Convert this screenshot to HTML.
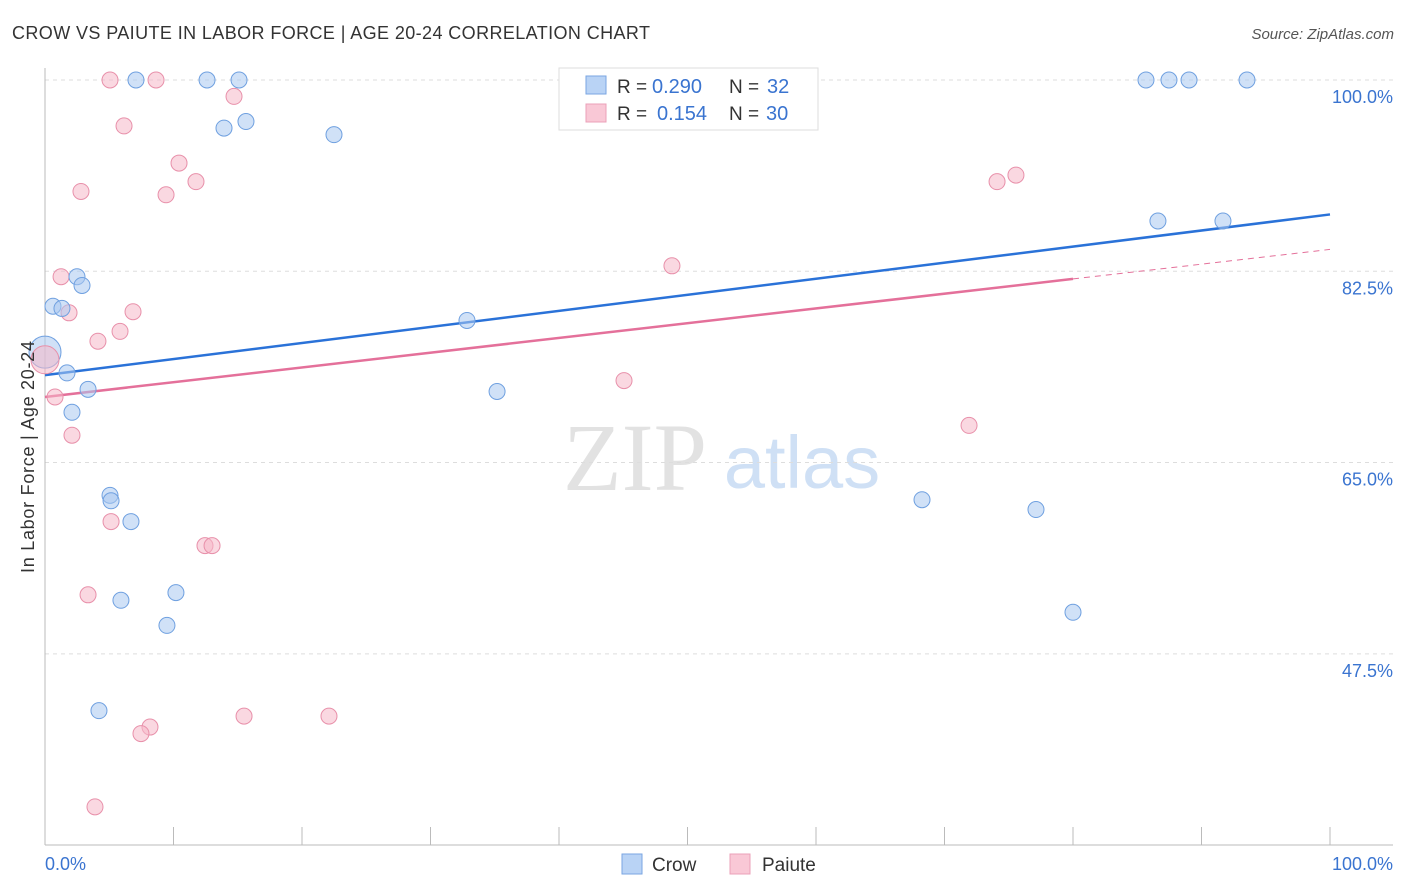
<!DOCTYPE html>
<html><head><meta charset="utf-8"><style>
body{margin:0;background:#fff;font-family:"Liberation Sans",sans-serif;}
svg{display:block}
</style></head><body>
<svg width="1406" height="892" xmlns="http://www.w3.org/2000/svg">
<text x="12" y="39" font-size="18" fill="#333" textLength="638">CROW VS PAIUTE IN LABOR FORCE | AGE 20-24 CORRELATION CHART</text>
<text x="1394" y="39" font-size="15" fill="#555" text-anchor="end" font-style="italic">Source: ZipAtlas.com</text>
<text x="635" y="490" font-size="96" fill="#e2e2e2" text-anchor="middle" font-family="Liberation Serif,serif">ZIP</text>
<text x="802" y="488" font-size="74" fill="#cfe0f5" text-anchor="middle">atlas</text>
<g id="grid"></g>
<g id="axes"></g>
<g id="lines"></g>
<g id="pts"></g>
<text transform="translate(34,457) rotate(-90)" font-size="18" fill="#333" text-anchor="middle" textLength="232">In Labor Force | Age 20-24</text>
<text x="45" y="870" font-size="18" fill="#3a74d0">0.0%</text>
<text x="1393" y="870" font-size="18" fill="#3a74d0" text-anchor="end">100.0%</text>
<g>
<rect x="559" y="68" width="259" height="62" fill="#fff" stroke="#ddd"/>
<rect x="586" y="76" width="20" height="18" fill="#b9d3f5" stroke="#7aa6e2"/>
<rect x="586" y="104" width="20" height="18" fill="#f9c8d6" stroke="#eba0b8"/>
<text x="617" y="93" font-size="19" fill="#333">R =</text>
<text x="652" y="93" font-size="20" fill="#3a74d0">0.290</text>
<text x="729" y="93" font-size="19" fill="#333">N =</text>
<text x="767" y="93" font-size="20" fill="#3a74d0">32</text>
<text x="617" y="120" font-size="19" fill="#333">R =</text>
<text x="657" y="120" font-size="20" fill="#3a74d0">0.154</text>
<text x="729" y="120" font-size="19" fill="#333">N =</text>
<text x="766" y="120" font-size="20" fill="#3a74d0">30</text>
</g>
<g>
<rect x="622" y="854" width="20" height="20" fill="#b9d3f5" stroke="#7aa6e2"/>
<text x="652" y="871" font-size="19" fill="#333">Crow</text>
<rect x="730" y="854" width="20" height="20" fill="#f9c8d6" stroke="#eba0b8"/>
<text x="762" y="871" font-size="19" fill="#333">Paiute</text>
</g>
</svg>
<script>
const yTicks=[100,82.5,65,47.5];
const yTickLabels=["100.0%","82.5%","65.0%","47.5%"];
const crowX=[0.62,1.32,2.49,2.88,1.71,2.10,3.35,5.06,5.14,6.69,5.91,10.19,9.49,4.20,7.08,12.61,15.10,13.93,15.64,22.49,32.84,35.18,68.25,77.12,80.0,85.68,87.47,89.03,93.54,86.61,91.67];
const crowY=[79.3,79.1,82.0,81.2,73.2,69.6,71.7,62.0,61.5,59.6,52.4,53.1,50.1,42.3,100,100,100,95.6,96.2,95.0,78.0,71.5,61.6,60.7,51.3,100,100,100,100,87.1,87.1];
const paiX=[5.06,8.64,14.71,6.15,2.80,9.42,10.43,11.75,1.25,1.87,6.85,5.84,4.12,0.78,2.10,5.14,12.45,13.0,3.35,15.49,22.1,8.17,7.47,3.89,48.79,45.06,71.91,74.09,75.56];
const paiY=[100,100,98.5,95.8,89.8,89.5,92.4,90.7,82.0,78.7,78.8,77.0,76.1,71.0,67.5,59.6,57.4,57.4,52.9,41.8,41.8,40.8,40.2,33.5,83.0,72.5,68.4,90.7,91.3];
const crowBig=[0,75.1], paiBig=[0,74.4];
const crowTrend=[73.0,87.7], paiTrend=[71.0,84.5], paiSolidEnd=80;
const X=v=>45+v*12.85, Y=v=>80+(100-v)*10.93;
const NS="http://www.w3.org/2000/svg";
function mk(t,a,p){const e=document.createElementNS(NS,t);for(const k in a)e.setAttribute(k,a[k]);document.getElementById(p).appendChild(e);return e;}
yTicks.forEach((t,i)=>{
 const l=mk('line',{x1:45,x2:1393,y1:Y(t),y2:Y(t),stroke:'#ddd','stroke-dasharray':'4,4'},'grid');
 
 
 const tx=mk('text',{x:1393,y:Y(t)+23,'font-size':18,fill:'#3a74d0','text-anchor':'end'},'grid');
 tx.textContent=yTickLabels[i];
 
 
});
const ax=mk('line',{x1:45,x2:1393,y1:845,y2:845,stroke:'#bbb'},'axes');


const ay=mk('line',{x1:45,x2:45,y1:68,y2:845,stroke:'#bbb'},'axes');


for(let i=0;i<=10;i++){const t=mk('line',{x1:X(i*10),x2:X(i*10),y1:827,y2:845,stroke:'#bbb'},'axes');
 
 }
let l1=mk('line',{x1:X(0),y1:Y(crowTrend[0]),x2:X(100),y2:Y(crowTrend[1]),stroke:'#2a72d8','stroke-width':2.5},'lines');


const pAt=x=>paiTrend[0]+(paiTrend[1]-paiTrend[0])*x/100;
let l2=mk('line',{x1:X(0),y1:Y(paiTrend[0]),x2:X(paiSolidEnd),y2:Y(pAt(paiSolidEnd)),stroke:'#e4709a','stroke-width':2.5},'lines');


let l3=mk('line',{x1:X(paiSolidEnd),y1:Y(pAt(paiSolidEnd)),x2:X(100),y2:Y(paiTrend[1]),stroke:'#e4709a','stroke-width':1,'stroke-dasharray':'6,5'},'lines');


function pts(xs,ys,fill,stroke,name){xs.forEach((x,i)=>{const c=mk('circle',{cx:X(x),cy:Y(ys[i]),r:8,fill:fill,'fill-opacity':0.55,stroke:stroke,'stroke-width':1},'pts');
 
 });}
const b1=mk('circle',{cx:X(crowBig[0]),cy:Y(crowBig[1]),r:16,fill:'#a9c8f0','fill-opacity':0.55,stroke:'#6fa0e0'},'pts');


const b2=mk('circle',{cx:X(paiBig[0]),cy:Y(paiBig[1]),r:14,fill:'#f6b8c8','fill-opacity':0.55,stroke:'#e890aa'},'pts');


pts(paiX,paiY,'#f6b8c8','#e890aa','paiute-point');
pts(crowX,crowY,'#a9c8f0','#6fa0e0','crow-point');
</script>
</body></html>
